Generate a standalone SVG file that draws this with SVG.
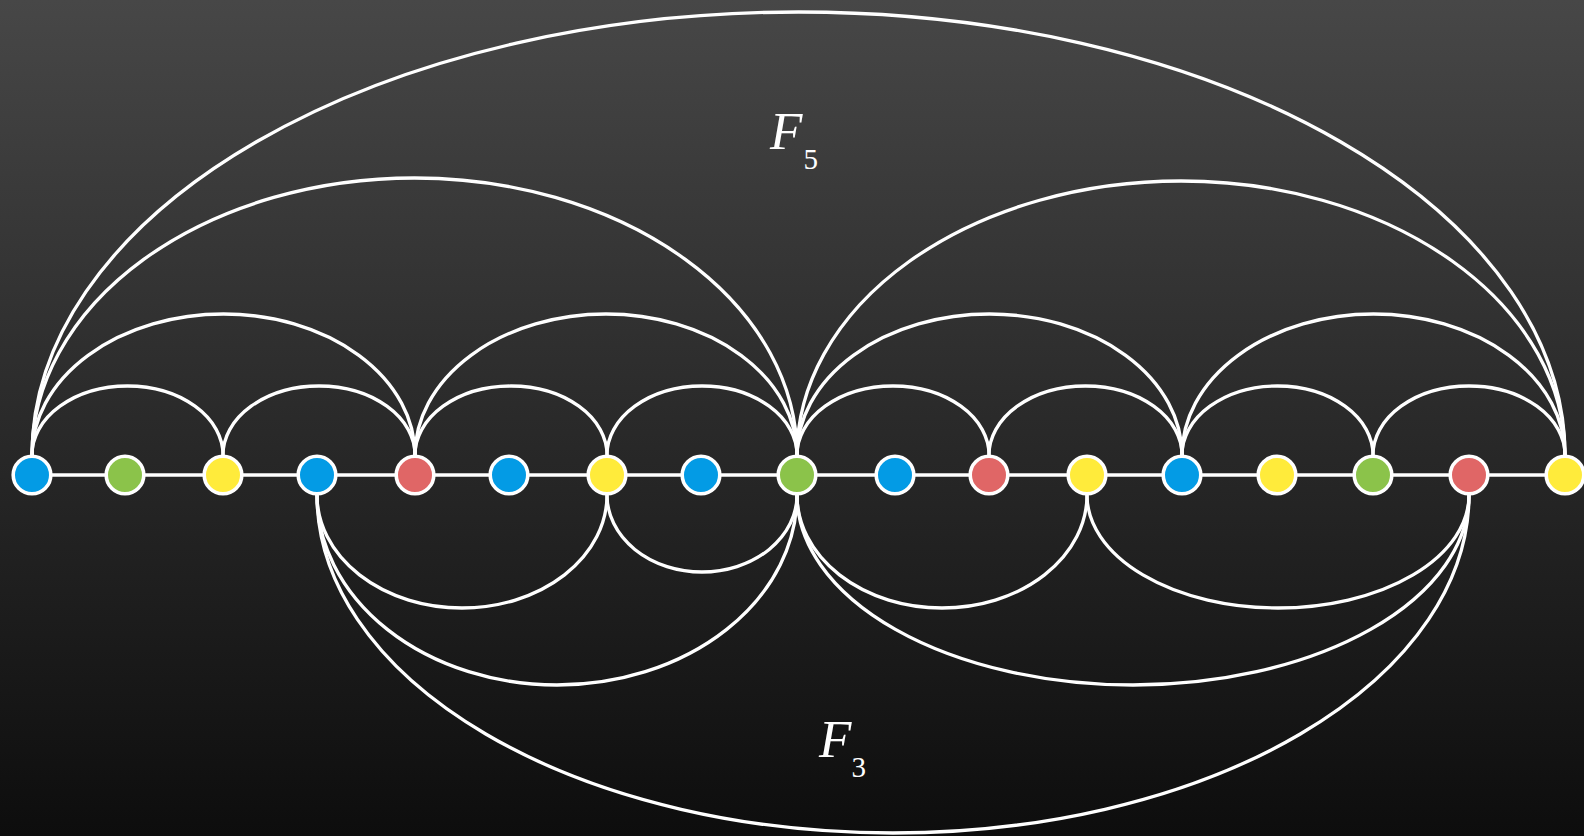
<svg xmlns="http://www.w3.org/2000/svg" width="1584" height="836" viewBox="0 0 1584 836">
<defs>
<linearGradient id="bg" x1="0" y1="0" x2="0" y2="1">
<stop offset="0" stop-color="#474747"/>
<stop offset="1" stop-color="#0d0d0d"/>
</linearGradient>
<style>
.arc{fill:none;stroke:#fff;stroke-width:3.3}
.line{stroke:#fff;stroke-width:3.4}
.n{stroke:#fff;stroke-width:3.6}
.b{fill:#039be5}.g{fill:#8bc34a}.y{fill:#ffeb3b}.r{fill:#e06666}
.lbl{fill:#fff;font-family:"Liberation Serif",serif;font-size:53px;font-style:italic}
.sub{font-size:29px;font-style:normal}
</style>
</defs>
<rect width="1584" height="836" fill="url(#bg)"/>
<g id="connectors">
<line class="line" x1="32" y1="475" x2="1565" y2="475"/>
<path class="arc" d="M32 455 A95.5 69 0 0 1 223 455"/>
<path class="arc" d="M223 455 A96 69 0 0 1 415 455"/>
<path class="arc" d="M32 455 A191.5 141 0 0 1 415 455"/>
<path class="arc" d="M415 455 A96 69 0 0 1 607 455"/>
<path class="arc" d="M607 455 A95 69 0 0 1 797 455"/>
<path class="arc" d="M415 455 A191 141 0 0 1 797 455"/>
<path class="arc" d="M32 455 A382.5 277 0 0 1 797 455"/>
<path class="arc" d="M32 455 A766.5 443 0 0 1 1565 455"/>
<path class="arc" d="M797 455 A96 69 0 0 1 989 455"/>
<path class="arc" d="M989 455 A96.5 69 0 0 1 1182 455"/>
<path class="arc" d="M797 455 A192.5 141 0 0 1 1182 455"/>
<path class="arc" d="M1182 455 A95.5 69 0 0 1 1373 455"/>
<path class="arc" d="M1373 455 A96 69 0 0 1 1565 455"/>
<path class="arc" d="M1182 455 A191.5 141 0 0 1 1565 455"/>
<path class="arc" d="M797 455 A384 274 0 0 1 1565 455"/>
<path class="arc" d="M317 495 A145 113 0 0 0 607 495"/>
<path class="arc" d="M607 495 A95 77 0 0 0 797 495"/>
<path class="arc" d="M317 495 A240 190 0 0 0 797 495"/>
<path class="arc" d="M317 495 A576 338 0 0 0 1469 495"/>
<path class="arc" d="M797 495 A145 113 0 0 0 1087 495"/>
<path class="arc" d="M1087 495 A191 113 0 0 0 1469 495"/>
<path class="arc" d="M797 495 A336 190 0 0 0 1469 495"/>
</g>
<g id="node0"><circle class="n b" cx="32" cy="475" r="18.8"/></g>
<g id="node1"><circle class="n g" cx="125" cy="475" r="18.8"/></g>
<g id="node2"><circle class="n y" cx="223" cy="475" r="18.8"/></g>
<g id="node3"><circle class="n b" cx="317" cy="475" r="18.8"/></g>
<g id="node4"><circle class="n r" cx="415" cy="475" r="18.8"/></g>
<g id="node5"><circle class="n b" cx="509" cy="475" r="18.8"/></g>
<g id="node6"><circle class="n y" cx="607" cy="475" r="18.8"/></g>
<g id="node7"><circle class="n b" cx="701" cy="475" r="18.8"/></g>
<g id="node8"><circle class="n g" cx="797" cy="475" r="18.8"/></g>
<g id="node9"><circle class="n b" cx="895" cy="475" r="18.8"/></g>
<g id="node10"><circle class="n r" cx="989" cy="475" r="18.8"/></g>
<g id="node11"><circle class="n y" cx="1087" cy="475" r="18.8"/></g>
<g id="node12"><circle class="n b" cx="1182" cy="475" r="18.8"/></g>
<g id="node13"><circle class="n y" cx="1277" cy="475" r="18.8"/></g>
<g id="node14"><circle class="n g" cx="1373" cy="475" r="18.8"/></g>
<g id="node15"><circle class="n r" cx="1469" cy="475" r="18.8"/></g>
<g id="node16"><circle class="n y" cx="1565" cy="475" r="18.8"/></g>
<g id="label-F5"><text class="lbl" x="770" y="149">F<tspan class="sub" dx="1" dy="20">5</tspan></text></g>
<g id="label-F3"><text class="lbl" x="819" y="757">F<tspan class="sub" dx="0" dy="20">3</tspan></text></g>
</svg>
